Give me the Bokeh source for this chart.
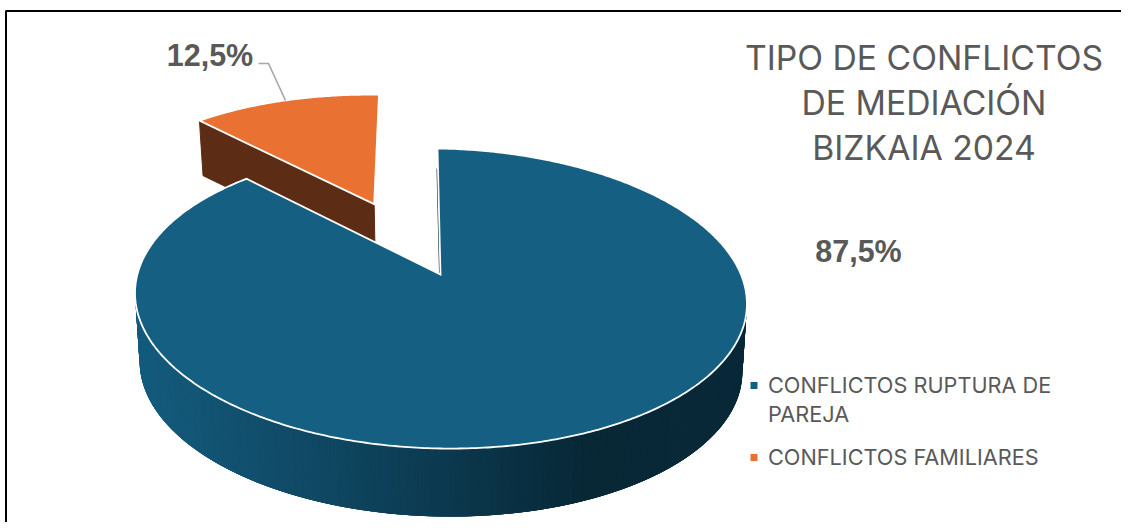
import numpy as np
from bokeh.plotting import figure
from bokeh.models import Range1d, ColumnDataSource
from bokeh.core.properties import value
from bokeh.embed import file_html
from bokeh.resources import INLINE

categories = ["CONFLICTOS RUPTURA DE\nPAREJA", "CONFLICTOS FAMILIARES"]
values = [87.5, 12.5]
percent_labels = ["87,5%", "12,5%"]
title_lines = ["TIPO DE CONFLICTOS", "DE MEDIACIÓN", "BIZKAIA 2024"]
top_colors = ["#156082", "#E97132"]

W, H = 1121, 522
CX, CY, A, B, K = 440.0, 274.0, 302.0, 146.2, 0.16
DEPTH, SHRINK = 68.0, 0.985
EXPLODE = 0.57
GREY = "#595959"


def project(u, v):
    w = 1 + K * v
    return CX + A * u / w - 3.0 * v, CY - B * v / w + 4.0 * u


def disc(t0, t1, n, e=0.0, tm=0.0):
    t = np.radians(np.linspace(t0, t1, n))
    return np.sin(t) + e * np.sin(tm), np.cos(t) + e * np.cos(tm)


def lower(x, y, depth=DEPTH):
    return CX + (x - CX) * SHRINK, y + depth


def lerp_color(x):
    stops_x = [135, 300, 440, 590, 750]
    r = np.interp(x, stops_x, [0x15, 0x10, 0x0c, 0x08, 0x0a])
    g = np.interp(x, stops_x, [0x5c, 0x4a, 0x3a, 0x28, 0x2a])
    b = np.interp(x, stops_x, [0x7e, 0x66, 0x50, 0x36, 0x3a])
    return "#%02x%02x%02x" % (int(r), int(g), int(b))


blue_end = 360.0 * values[0] / sum(values)
orange_mid = blue_end + 360.0 * values[1] / sum(values) / 2

p = figure(width=W, height=H, output_backend="svg", toolbar_location=None,
           x_range=Range1d(0, W), y_range=Range1d(H, 0),
           min_border=0, min_border_left=0, min_border_right=0,
           min_border_top=0, min_border_bottom=0, outline_line_color=None,
           background_fill_color="white", border_fill_color="white")
p.axis.visible = False
p.grid.visible = False

# frame
p.line([5.5, 5.5, W], [H, 10.5, 10.5], line_color="#000000", line_width=2)

# exploded slice: walls then top
ou, ov = disc(blue_end, 360, 80, EXPLODE, np.radians(orange_mid))
ax_, ay_ = EXPLODE * np.sin(np.radians(orange_mid)), EXPLODE * np.cos(np.radians(orange_mid))
ox, oy = project(ou, ov)
apx, apy = project(ax_, ay_)
ox, apx = ox - 4.0, apx - 4.0
oy, apy = oy + 0.5, apy + 1.5
lx, ly = ox[0], oy[0]
l2x, l2y = lower(np.array([lx, apx]), np.array([ly, apy]), 55)
p.patch([lx, apx, l2x[1], l2x[0]], [ly, apy, l2y[1], l2y[0]],
        fill_color="#5C2C14", line_color="#5C2C14", line_width=1)
p.patch(np.r_[apx, ox], np.r_[apy, oy], fill_color=top_colors[1],
        line_color="white", line_width=1.8, line_join="miter")

# main slice: side wall strips, each overlapping the next to avoid seams
su, sv = disc(60, 300, 481)
sx, sy = project(su, sv)
bx, by = lower(sx, sy)
xs, ys, cs = [], [], []
for i in range(0, len(sx) - 4):
    xs.append([sx[i], sx[i + 4], bx[i + 4], bx[i]])
    ys.append([sy[i], sy[i + 4], by[i + 4], by[i]])
    cs.append(lerp_color((sx[i] + sx[i + 1]) / 2))
p.patches("x", "y", source=ColumnDataSource(dict(x=xs, y=ys, c=cs)),
          fill_color="c", line_color=None)

# main slice: top
bu, bv = disc(0, blue_end, 500)
tx, ty = project(bu, bv)
# thin cut wall beside the gap
p.patch([tx[0] - 1, CX - 1.5, CX + 1, tx[0] + 1],
        [ty[0] + 20, CY - 2, CY, ty[0] + 20], fill_color="#0a2a3a", line_color=None)
p.patch(np.r_[CX, tx], np.r_[CY, ty], fill_color=top_colors[0],
        line_color="white", line_width=1.8, line_join="miter")

# leader
p.line([258, 268, 285], [63, 63, 100], line_color="#A6A6A6", line_width=1.6)

# percent labels
p.text([858, 209.5], [250, 54], text=percent_labels, text_color=GREY, text_align="center",
       text_baseline="middle", text_font=value("Liberation Sans"),
       text_font_style="bold", text_font_size="30.5px")

# title
p.text([925.5 - 2] * 3, [57, 102, 147], text=title_lines, text_color=GREY, text_align="center",
       text_baseline="middle", text_font=value("Inter"), text_font_size="33.7px")

# legend
p.scatter([753.5, 753.5], [385, 457], marker="square", size=7, color=top_colors, line_color=None)
leg_text = categories[0].split("\n") + [categories[1]]
p.text([767.5] * 3, [384, 413, 456], text=leg_text, text_color=GREY, text_align="left",
       text_baseline="middle", text_font=value("Inter"), text_font_size="21.7px")

open("out.html", "w").write(file_html(p, INLINE))
